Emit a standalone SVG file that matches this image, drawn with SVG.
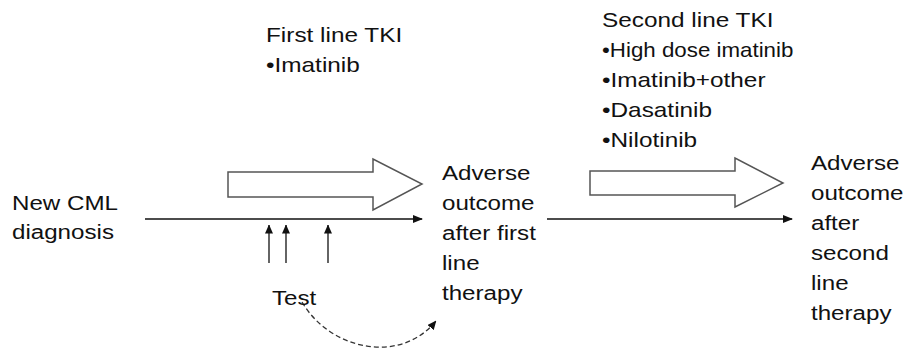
<svg xmlns="http://www.w3.org/2000/svg" width="908" height="351" viewBox="0 0 908 351">
<style>
text{font-family:"Liberation Sans",Arial,sans-serif;font-size:21px;fill:#111}
.big{fill:#fff;stroke:#555;stroke-width:1.5}
.ln{stroke:#111;stroke-width:1.3;fill:none}
.dash{stroke:#333;stroke-width:1.3;fill:none;stroke-dasharray:5 3}
</style>
<defs>
<marker id="ah" markerWidth="10" markerHeight="8" refX="9" refY="4" orient="auto" markerUnits="userSpaceOnUse">
<path d="M0,0 L10,4 L0,8 Z" fill="#111"/>
</marker>
<marker id="ahs" markerWidth="9" markerHeight="8" refX="8.5" refY="4" orient="auto" markerUnits="userSpaceOnUse">
<path d="M0,0 L9,4 L0,8 Z" fill="#111"/>
</marker>
</defs>
<g id="connectors">
<line class="ln" x1="145" y1="219" x2="422" y2="219" marker-end="url(#ah)"/>
<line class="ln" x1="547" y1="219" x2="792" y2="219" marker-end="url(#ah)"/>
<line class="ln" x1="269" y1="263" x2="269" y2="225" marker-end="url(#ahs)"/>
<line class="ln" x1="286" y1="263" x2="286" y2="225" marker-end="url(#ahs)"/>
<line class="ln" x1="328" y1="263" x2="328" y2="225" marker-end="url(#ahs)"/>
<path class="dash" d="M302,302 C330,350 400,365 436,321" marker-end="url(#ahs)"/>
</g>
<g id="arrow1">
<polygon class="big" points="228,172 373,172 373,159 422,184 373,210 373,197 228,197"/>
</g>
<g id="arrow2">
<polygon class="big" points="590,171 735,171 735,158 783,183 735,207 735,195 590,195"/>
</g>
<g id="first-line" transform="translate(266,0) scale(1.16,1)">
<text><tspan x="0" y="42">First line TKI</tspan><tspan x="0" y="72">•Imatinib</tspan></text>
</g>
<g id="second-line" transform="translate(602,0) scale(1.16,1)">
<text><tspan x="0" y="27">Second line TKI</tspan><tspan x="0" y="57" textLength="165" lengthAdjust="spacingAndGlyphs">•High dose imatinib</tspan><tspan x="0" y="87">•Imatinib+other</tspan><tspan x="0" y="117">•Dasatinib</tspan><tspan x="0" y="147">•Nilotinib</tspan></text>
</g>
<g id="new-cml" transform="translate(12,0) scale(1.15,1)">
<text><tspan x="0" y="210">New CML</tspan><tspan x="0" y="239">diagnosis</tspan></text>
</g>
<g id="outcome1" transform="translate(442,0) scale(1.15,1)">
<text><tspan x="0" y="180">Adverse</tspan><tspan x="0" y="210">outcome</tspan><tspan x="0" y="240">after first</tspan><tspan x="0" y="270">line</tspan><tspan x="0" y="300">therapy</tspan></text>
</g>
<g id="outcome2" transform="translate(811,0) scale(1.15,1)">
<text><tspan x="0" y="170">Adverse</tspan><tspan x="0" y="200">outcome</tspan><tspan x="0" y="230">after</tspan><tspan x="0" y="260">second</tspan><tspan x="0" y="290">line</tspan><tspan x="0" y="320">therapy</tspan></text>
</g>
<g id="test" transform="translate(272,0) scale(1.15,1)">
<text><tspan x="0" y="305">Test</tspan></text>
</g>
</svg>
